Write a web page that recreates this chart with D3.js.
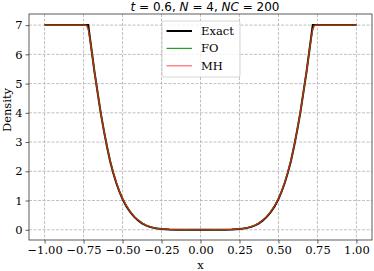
<!DOCTYPE html>
<html><head><meta charset="utf-8">
<script src="https://cdn.jsdelivr.net/npm/d3@7"></script>
<style>body{margin:0;background:#fff}svg{display:block}</style>
</head><body>
<script>
const xs = [-1.00,-0.90,-0.80,-0.74,-0.73,-0.72,-0.71,-0.70,-0.69,-0.68,-0.67,-0.66,-0.65,-0.64,-0.62,-0.60,-0.58,-0.56,-0.54,-0.52,-0.50,-0.475,-0.45,-0.425,-0.40,-0.375,-0.35,-0.325,-0.30,-0.275,-0.25,-0.20,-0.15,-0.10,-0.05,0.00,
0.05,0.10,0.15,0.20,0.25,0.275,0.30,0.325,0.35,0.375,0.40,0.425,0.45,0.475,0.50,0.52,0.54,0.56,0.58,0.60,0.62,0.64,0.65,0.66,0.67,0.68,0.69,0.70,0.71,0.72,0.73,0.74,0.80,0.90,1.00];
const exact = [7,7,7,7,7,7,6.6,6.2,5.8,5.4,5.05,4.7,4.35,4.0,3.4,2.85,2.35,1.95,1.6,1.3,1.05,0.8,0.6,0.44,0.32,0.22,0.15,0.10,0.065,0.04,0.025,0.01,0.003,0.001,0.0002,0,
0.0002,0.001,0.003,0.01,0.025,0.04,0.065,0.10,0.15,0.22,0.32,0.44,0.6,0.8,1.05,1.3,1.6,1.95,2.35,2.85,3.4,4.0,4.35,4.7,5.05,5.4,5.8,6.2,6.6,7,7,7,7,7,7];
const fo = [7,7,7,7,6.98,6.85,6.55,6.18,5.79,5.4,5.05,4.7,4.35,4.0,3.4,2.86,2.37,1.97,1.62,1.32,1.07,0.82,0.62,0.46,0.33,0.23,0.16,0.11,0.07,0.045,0.03,0.012,0.004,0.0015,0.0004,0.0002,
0.0004,0.0015,0.004,0.012,0.03,0.045,0.07,0.11,0.16,0.23,0.33,0.46,0.62,0.82,1.07,1.32,1.62,1.97,2.37,2.86,3.4,4.0,4.35,4.7,5.05,5.4,5.79,6.18,6.55,6.85,6.98,7,7,7,7];
const mh = [7,7,7,7,6.99,6.88,6.57,6.19,5.8,5.4,5.05,4.7,4.35,4.0,3.4,2.86,2.36,1.96,1.61,1.31,1.06,0.81,0.61,0.45,0.33,0.23,0.155,0.105,0.068,0.043,0.028,0.011,0.0035,0.0012,0.0003,0.0001,
0.0003,0.0012,0.0035,0.011,0.028,0.043,0.068,0.105,0.155,0.23,0.33,0.45,0.61,0.81,1.06,1.31,1.61,1.96,2.36,2.86,3.4,4.0,4.35,4.7,5.05,5.4,5.8,6.19,6.57,6.88,6.99,7,7,7,7];
const xTicks = [-1.00,-0.75,-0.50,-0.25,0.00,0.25,0.50,0.75,1.00];
const yTicks = [0,1,2,3,4,5,6,7];
const seriesNames = ["Exact","FO","MH"];

const W=374,H=271;
const m={l:29,r:2,t:14,b:31};
const SERIF="DejaVu Serif", SANS="DejaVu Sans";
const svg=d3.select("body").append("svg").attr("width",W).attr("height",H);
const x=d3.scaleLinear().domain([-1.1,1.1]).range([m.l,W-m.r]);
const y=d3.scaleLinear().domain([-0.35,7.38]).range([H-m.b,m.t]);

const g=svg.append("g");
g.selectAll("line.vx").data(xTicks).join("line")
  .attr("x1",d=>x(d)).attr("x2",d=>x(d)).attr("y1",m.t).attr("y2",H-m.b)
  .attr("stroke","#b0b0b0").attr("stroke-width",0.8).attr("stroke-dasharray","3,1.5");
g.selectAll("line.hy").data(yTicks).join("line")
  .attr("y1",d=>y(d)).attr("y2",d=>y(d)).attr("x1",m.l).attr("x2",W-m.r)
  .attr("stroke","#b0b0b0").attr("stroke-width",0.8).attr("stroke-dasharray","3,1.5");

const line=(vals)=>d3.line().x((d,i)=>x(xs[i])).y(d=>y(d))(vals);
svg.append("path").attr("d",line(exact)).attr("fill","none").attr("stroke","#000").attr("stroke-width",2);
svg.append("path").attr("d",line(fo)).attr("fill","none").attr("stroke","#22a022").attr("stroke-width",1.2);
svg.append("path").attr("d",line(mh)).attr("fill","none").attr("stroke","#ff0000").attr("stroke-opacity",0.75).attr("stroke-width",1.2);

const xa=svg.append("g").attr("transform",`translate(0,${H-m.b})`)
  .call(d3.axisBottom(x).tickValues(xTicks).tickFormat(d=>d3.format(".2f")(d).replace("-","\u2212")).tickSize(3.5).tickPadding(2.5));
const ya=svg.append("g").attr("transform",`translate(${m.l},0)`)
  .call(d3.axisLeft(y).tickValues(yTicks).tickFormat(d3.format("d")).tickSize(3.5).tickPadding(3));
[xa,ya].forEach(a=>{a.attr("font-family",SERIF).attr("font-size",11.5);
  a.selectAll("text").attr("fill","#000");
  a.select(".domain").remove(); a.selectAll(".tick line").attr("stroke","#333").attr("stroke-width",0.8);});
svg.append("rect").attr("x",m.l).attr("y",m.t).attr("width",W-m.l-m.r).attr("height",H-m.t-m.b)
  .attr("fill","none").attr("stroke","#333").attr("stroke-width",0.8);

svg.append("text").attr("x",205).attr("y",11).attr("text-anchor","middle").attr("font-size",12).attr("font-family",SANS)
  .html('<tspan font-style="italic">t</tspan> = 0.6, <tspan font-style="italic">N</tspan> = 4, <tspan font-style="italic">NC</tspan> = 200');
svg.append("text").attr("x",x(0)).attr("y",H-2).attr("text-anchor","middle").attr("font-size",11.5).attr("font-family",SERIF).text("x");
svg.append("text").attr("transform",`translate(11,110) rotate(-90)`).attr("text-anchor","middle").attr("font-size",11.5).attr("font-family",SERIF).text("Density");

const lg=svg.append("g").attr("transform","translate(162,21)");
lg.append("rect").attr("width",78).attr("height",56).attr("rx",2).attr("fill","#fff").attr("fill-opacity",0.8).attr("stroke","#ccc").attr("stroke-width",0.8);
const cols=[["#000",2,1],["#22a022",1.2,1],["#ff0000",1.2,0.6]];
seriesNames.forEach((n,i)=>{
  const yy=10+i*17.4;
  lg.append("line").attr("x1",4.5).attr("x2",30).attr("y1",yy).attr("y2",yy).attr("stroke",cols[i][0]).attr("stroke-width",cols[i][1]).attr("stroke-opacity",cols[i][2]);
  lg.append("text").attr("x",39).attr("y",yy+4).attr("font-size",11.5).attr("font-family",SERIF).text(n);
});
</script>
</body></html>
